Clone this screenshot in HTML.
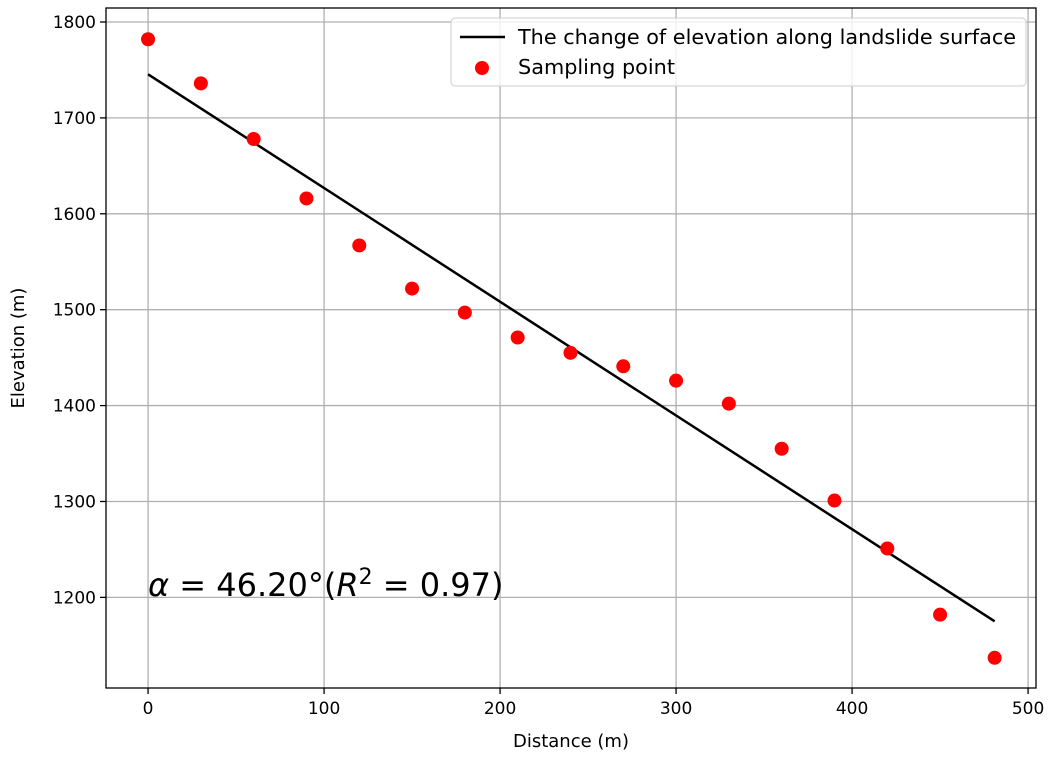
<!DOCTYPE html>
<html><head><meta charset="utf-8"><style>
body{margin:0;background:#fff;}
text{font-family:"DejaVu Sans","Liberation Sans",sans-serif;}
</style></head><body>
<svg id="chart" width="1054" height="759" xmlns="http://www.w3.org/2000/svg">
<g id="grid"></g>
<g id="axes"></g>
<g id="marks"></g>
<rect x="106" y="8" width="930" height="680" fill="none" stroke="#000" stroke-width="1.3"/>
<text x="571" y="747" font-size="18" text-anchor="middle">Distance (m)</text>
<text transform="translate(24,348) rotate(-90)" font-size="18" text-anchor="middle">Elevation (m)</text>
<text x="148" y="596" font-size="32" font-family="DejaVu Serif,serif"><tspan font-style="italic">α</tspan> = 46.20°(<tspan font-style="italic">R</tspan><tspan font-size="22" dy="-12">2</tspan><tspan dy="12"> = 0.97)</tspan></text>
<g>
<rect x="451" y="18" width="575" height="68" rx="4" fill="#fff" fill-opacity="0.8" stroke="#ccc"/>
<line x1="460" y1="37" x2="505" y2="37" stroke="#000" stroke-width="2.5"/>
<text x="518" y="44" font-size="20" textLength="498" lengthAdjust="spacingAndGlyphs">The change of elevation along landslide surface</text>
<circle cx="482" cy="68" r="7" fill="red"/>
<text x="518" y="74" font-size="20" textLength="157" lengthAdjust="spacingAndGlyphs">Sampling point</text>
</g>
</svg>
<script>
const xs=[0,30,60,90,120,150,180,210,240,270,300,330,360,390,420,450,481];
const ys=[1782,1736,1678,1616,1567,1522,1497,1471,1455,1441,1426,1402,1355,1301,1251,1182,1137];
const lineX=[0,481];
const lineY=[1745.5,1175];
const xTicks=[0,100,200,300,400,500];
const yTicks=[1200,1300,1400,1500,1600,1700,1800];
const L=106,R=1036,T=8,B=688,x0=-23.9,x1=504.5,y0=1105.5,y1=1814.6;
const sx=v=>L+(v-x0)/(x1-x0)*(R-L);
const sy=v=>B-(v-y0)/(y1-y0)*(B-T);
const NS='http://www.w3.org/2000/svg';
function mk(t,a,p){const e=document.createElementNS(NS,t);for(const k in a)e.setAttribute(k,a[k]);p.appendChild(e);return e;}
const g=document.getElementById('grid'),ax=document.getElementById('axes'),m=document.getElementById('marks');
xTicks.forEach(v=>{const X=sx(v);
const gl=mk('line',{x1:X,x2:X,y1:T,y2:B,stroke:'#b0b0b0','stroke-width':1.3},g);


mk('line',{x1:X,x2:X,y1:B,y2:B+6,stroke:'#000','stroke-width':1.3},ax);
const t=mk('text',{x:X,y:B+26,'font-size':17,'text-anchor':'middle'},ax);t.textContent=v;

});
yTicks.forEach(v=>{const Y=sy(v);
const gl=mk('line',{x1:L,x2:R,y1:Y,y2:Y,stroke:'#b0b0b0','stroke-width':1.3},g);


mk('line',{x1:L-6,x2:L,y1:Y,y2:Y,stroke:'#000','stroke-width':1.3},ax);
const t=mk('text',{x:L-10,y:Y+6,'font-size':17,'text-anchor':'end'},ax);t.textContent=v;

});
const ln=mk('line',{x1:sx(lineX[0]),y1:sy(lineY[0]),x2:sx(lineX[1]),y2:sy(lineY[1]),stroke:'#000','stroke-width':2.5},m);


xs.forEach((v,i)=>{const c=mk('circle',{cx:sx(v),cy:sy(ys[i]),r:7,fill:'red'},m);

});
</script>
</body></html>
